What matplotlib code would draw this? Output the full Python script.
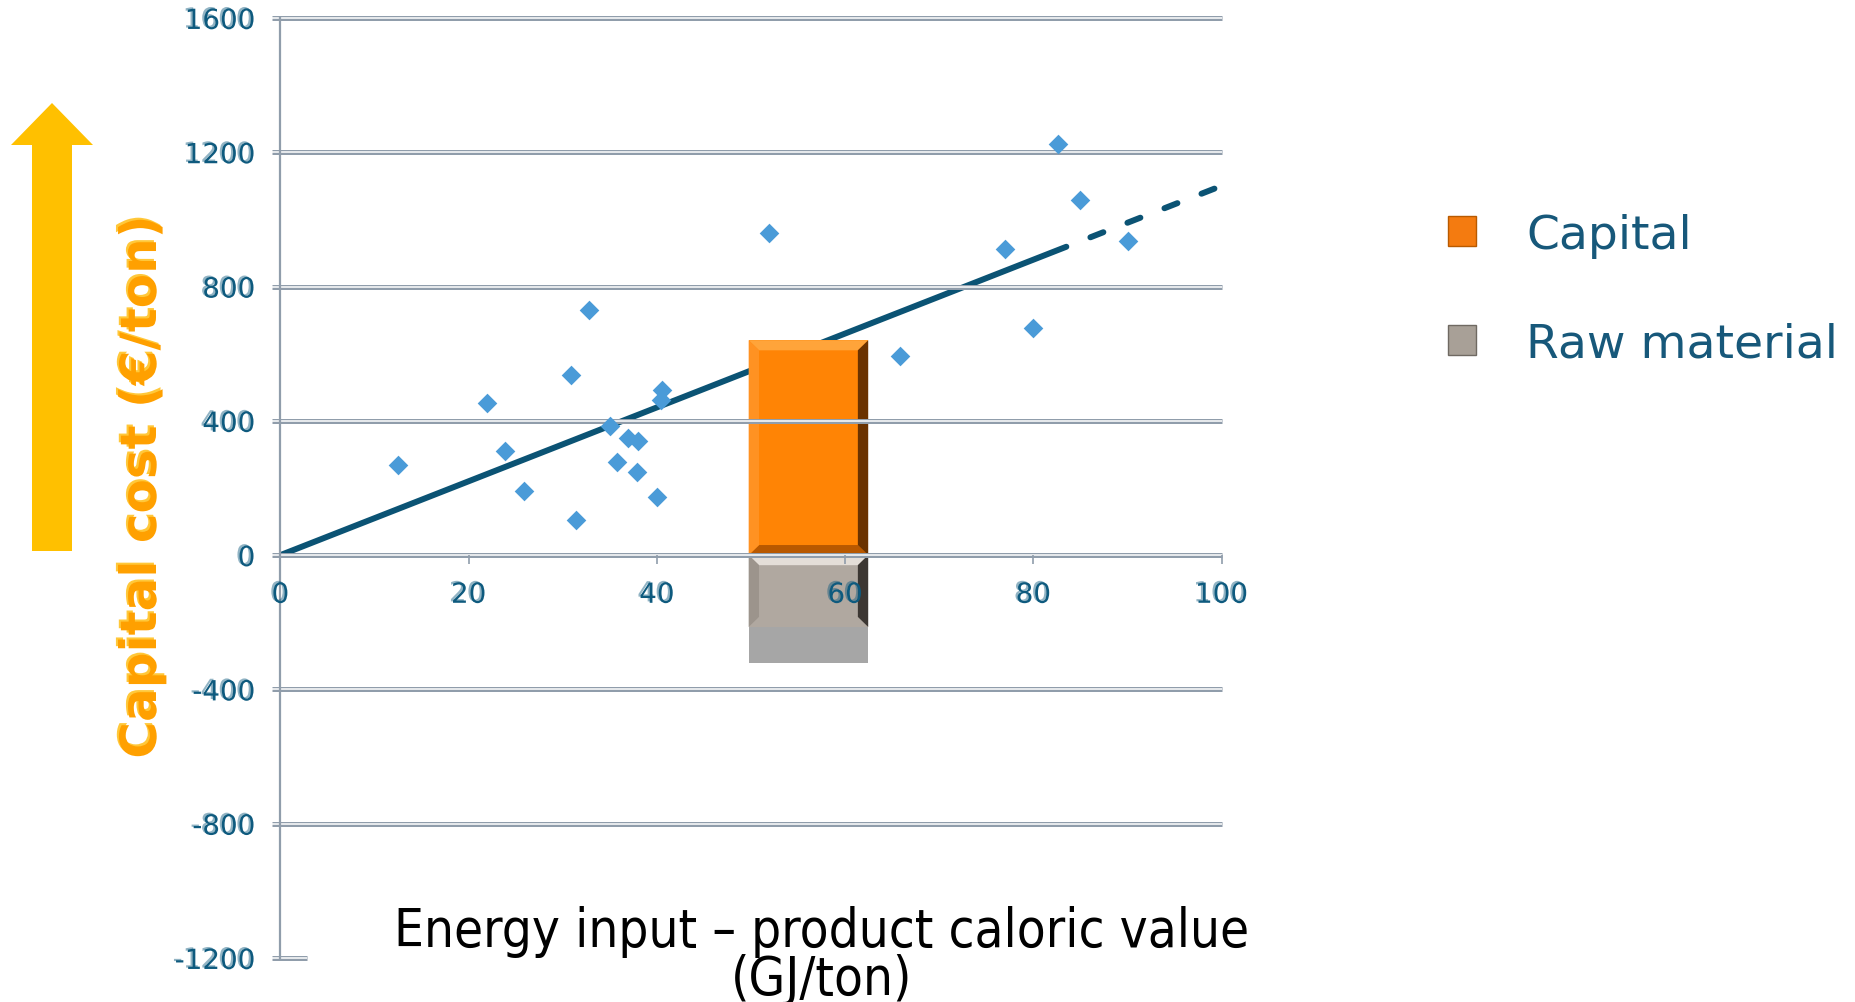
import matplotlib
matplotlib.use('Agg')
from matplotlib import pyplot as plt
from matplotlib.patches import Polygon, Patch, FancyArrow
import matplotlib.patheffects as pe

plt.rcParams['axes.unicode_minus'] = False

# plants: energy input minus product caloric value (GJ/ton) vs capital cost (EUR/ton)
energy = [12.5, 21.9, 23.9, 25.9, 30.9, 31.4, 32.8, 35.0, 35.8, 36.9, 38.0,
          37.9, 40.0, 40.5, 40.4, 51.9, 65.8, 77.0, 80.0, 82.6, 85.0, 90.1]
capital = [269, 452, 311, 191, 537, 106, 731, 385, 276, 350, 339,
           247, 173, 491, 463, 958, 594, 912, 675, 1226, 1057, 936]

# linear fit through the origin
trend_slope = 11.0
trend_solid_end = 83.5
trend_end = 100

# stacked cost bar
bar_x = 56.1
bar_width = 12.7
bar_capital = 640
bar_raw = -214
bar_raw_band = -321

xticks = [0, 20, 40, 60, 80, 100]
yticks = [-1200, -800, -400, 0, 400, 800, 1200, 1600]

teal = '#0E5A7E'
grid_gray = '#909DAB'


def bevel_bar(ax, x0, x1, y0, y1, face, top, bottom, left, right, bx, by, z):
    ax.add_patch(Polygon([(x0, y0), (x1, y0), (x1, y1), (x0, y1)],
                         closed=True, fc=face, ec='none', zorder=z))
    bands = [
        ([(x0, y1), (x1, y1), (x1 - bx, y1 - by), (x0 + bx, y1 - by)], top),
        ([(x0, y0), (x1, y0), (x1 - bx, y0 + by), (x0 + bx, y0 + by)], bottom),
        ([(x0, y0), (x0, y1), (x0 + bx, y1 - by), (x0 + bx, y0 + by)], left),
        ([(x1, y0), (x1, y1), (x1 - bx, y1 - by), (x1 - bx, y0 + by)], right),
    ]
    for pts, c in bands:
        ax.add_patch(Polygon(pts, closed=True, fc=c, ec='none', zorder=z))


fig = plt.figure(figsize=(18.56, 10.03), dpi=100)
ax = fig.add_axes([0.1511, 0.0439, 0.5071, 0.9372])
ax.set_xlim(0, 100)
ax.set_ylim(-1200, 1600)

# double gridlines
for v in yticks:
    xend = 2.8 if v == yticks[0] else 100
    ax.plot([-0.9, xend], [v, v], color=grid_gray, lw=3.6,
            solid_capstyle='butt', clip_on=False, zorder=2.3)
    ax.plot([-0.9, xend], [v, v], color='white', lw=1.1,
            solid_capstyle='butt', clip_on=False, zorder=2.31)

# trend line, solid then dashed
xs = [0, trend_solid_end]
ax.plot(xs, [trend_slope * x for x in xs], color='#0B5374', lw=4.3,
        solid_capstyle='round', zorder=2.0)
xd = [trend_solid_end, trend_end]
ax.plot(xd, [trend_slope * x for x in xd], color='#0B5374', lw=4.3,
        ls=(2.33, (2.33, 4.33)), dash_capstyle='round', zorder=2.0)

# bar
x0 = bar_x - bar_width / 2
x1 = bar_x + bar_width / 2
bevel_bar(ax, x0, x1, 0, bar_capital, '#FF8405', '#FFA43A', '#B85800',
          '#FF9222', '#6A3200', 1.1, 30, 2.2)
bevel_bar(ax, x0, x1, bar_raw, 0, '#B0A8A0', '#E4DED8', '#B0A8A0',
          '#9C948C', '#3C3733', 1.1, 30, 2.2)
ax.add_patch(Polygon([(x0, bar_raw_band), (x1, bar_raw_band), (x1, bar_raw),
                      (x0, bar_raw)], closed=True, fc='#A6A6A6', ec='none',
                     zorder=2.25))

ax.scatter(energy, capital, marker='D', s=100, color='#4A9BD8', lw=0, zorder=3)

for s in ['top', 'right']:
    ax.spines[s].set_visible(False)
ax.spines['bottom'].set_position(('data', 0))
ax.spines['bottom'].set_visible(False)
ax.spines['left'].set_color(grid_gray)
ax.spines['left'].set_linewidth(1.6)
ax.set_axisbelow(False)

ax.set_xticks(xticks)
ax.set_yticks(yticks)
ax.tick_params(axis='x', length=6.5, width=1.2, color=grid_gray, pad=12,
               labelsize=20, labelcolor=teal)
ax.tick_params(axis='y', length=0, pad=18, labelsize=20, labelcolor=teal)
for lbl in ax.get_xticklabels() + ax.get_yticklabels():
    lbl.set_path_effects([pe.SimplePatchShadow(offset=(-1.5, 1),
                                               shadow_rgbFace=teal, alpha=0.45),
                          pe.Normal()])

fig.text(142 / 1856, 1 - 488 / 1003, 'Capital cost (€/ton)', rotation=90,
         ha='center', va='center', fontsize=36, fontweight='bold',
         color='#FFA000',
         path_effects=[pe.SimplePatchShadow(offset=(-1.5, 1.5),
                                            shadow_rgbFace='#FFC83A', alpha=1),
                       pe.Normal()])

fig.text(822 / 1856, 1 - 956 / 1003,
         'Energy input – product caloric value\n(GJ/ton)',
         ha='center', va='center', fontsize=38, linespacing=0.92,
         family='DejaVu Sans', fontstretch='condensed', color='black')

fig.add_artist(FancyArrow(0.52, 4.51, 0, 4.48, width=0.40, head_width=0.82,
                          head_length=0.42, length_includes_head=True,
                          transform=fig.dpi_scale_trans, color='#FFC000', lw=0))

handles = [Patch(facecolor='#F47B10', edgecolor='#B85A00', label='Capital'),
           Patch(facecolor='#A8A097', edgecolor='#6F6962', label='Raw material')]
fig.legend(handles=handles, loc='upper left',
           bbox_to_anchor=(1448 / 1856, 1 - 214 / 1003), frameon=False,
           fontsize=34, labelcolor='#17587A', handlelength=0.6,
           handleheight=0.6, handletextpad=1.05, labelspacing=1.35,
           borderpad=0, borderaxespad=0)

fig.savefig('out.png', dpi=100)
